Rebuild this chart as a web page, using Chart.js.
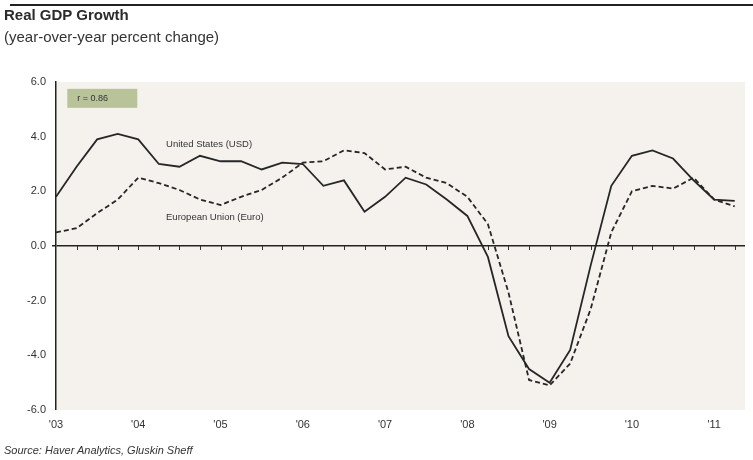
<!DOCTYPE html>
<html>
<head>
<meta charset="utf-8">
<script src="https://cdn.jsdelivr.net/npm/chart.js@4"></script>
<style>
  html, body { margin: 0; padding: 0; background: #fff; }
  #wrap { position: relative; width: 753px; height: 460px; font-family: "Liberation Sans", Arial, sans-serif; }
  #chart { position: absolute; left: 0; top: 0; }
  .rule { position: absolute; left: 10px; right: 0; top: 4px; height: 2px; background: #222; }
  .title { position: absolute; left: 4px; top: 6px; font-size: 15px; font-weight: bold; color: #2b2b2b; }
  .sub { position: absolute; left: 4px; top: 28px; font-size: 15px; color: #333; }
  .source { position: absolute; left: 4px; top: 444px; font-size: 11px; font-style: italic; color: #333; }
</style>
</head>
<body>
<div id="wrap">
  <canvas id="chart" width="753" height="460"></canvas>
  <div class="rule"></div>
  <div class="title">Real GDP Growth</div>
  <div class="sub">(year-over-year percent change)</div>
  <div class="source">Source: Haver Analytics, Gluskin Sheff</div>
</div>
<script>
// quarterly, 2003Q1 .. 2011Q2 (index 0..33)
const yearLabels = ["'03", "'04", "'05", "'06", "'07", "'08", "'09", "'10", "'11"];
const yTicks = [-6, -4, -2, 0, 2, 4, 6];

const usGrowth = [1.8, 2.9, 3.9, 4.1, 3.9, 3.0, 2.9, 3.3, 3.1, 3.1,
                  2.8, 3.05, 3.0, 2.2, 2.4, 1.25, 1.8, 2.5, 2.25, 1.7,
                  1.1, -0.4, -3.3, -4.5, -5.0, -3.8, -0.7, 2.2, 3.3, 3.5,
                  3.2, 2.4, 1.7, 1.65];
const euGrowth = [0.5, 0.65, 1.2, 1.7, 2.5, 2.3, 2.05, 1.7, 1.5, 1.8,
                  2.05, 2.5, 3.05, 3.1, 3.5, 3.4, 2.8, 2.9, 2.5, 2.3,
                  1.8, 0.8, -1.7, -4.9, -5.1, -4.3, -2.3, 0.5, 2.0, 2.2,
                  2.1, 2.5, 1.7, 1.45];

const toPts = arr => arr.map((v, i) => ({ x: i, y: v }));
const FONT = '"Liberation Sans", Arial, sans-serif';

const decor = {
  id: 'decor',
  beforeDraw(chart) {
    const { ctx, chartArea: a } = chart;
    ctx.save();
    ctx.fillStyle = '#f5f2ee';
    ctx.fillRect(a.left, a.top, a.right - a.left, a.bottom - a.top);
    ctx.restore();
  },
  afterDatasetsDraw(chart) {
    const { ctx } = chart;
    const xs = chart.scales.x, ys = chart.scales.y;
    const y0 = ys.getPixelForValue(0);
    ctx.save();
    // quarterly ticks on the zero line
    ctx.strokeStyle = '#333';
    ctx.lineWidth = 1;
    for (let q = 1; q <= 33; q++) {
      const px = Math.round(xs.getPixelForValue(q)) + 0.5;
      ctx.beginPath();
      ctx.moveTo(px, y0);
      ctx.lineTo(px, y0 + 4);
      ctx.stroke();
    }
    // r box
    const bx = xs.getPixelForValue(0.55), by = ys.getPixelForValue(5.75);
    ctx.fillStyle = '#b8c39a';
    ctx.fillRect(bx, by, 70, 19);
    ctx.fillStyle = '#333';
    ctx.font = '9px ' + FONT;
    ctx.textBaseline = 'middle';
    ctx.fillText('r = 0.86', bx + 10, by + 10);
    // series labels
    ctx.font = '9.5px ' + FONT;
    ctx.fillText('United States (USD)', xs.getPixelForValue(5.35), ys.getPixelForValue(3.7));
    ctx.fillText('European Union (Euro)', xs.getPixelForValue(5.35), ys.getPixelForValue(1.05));
    ctx.restore();
  }
};

new Chart(document.getElementById('chart'), {
  type: 'line',
  data: {
    datasets: [
      {
        label: 'United States (USD)',
        data: toPts(usGrowth),
        borderColor: '#262626',
        borderWidth: 1.8,
        pointRadius: 0,
        tension: 0,
      },
      {
        label: 'European Union (Euro)',
        data: toPts(euGrowth),
        borderColor: '#262626',
        borderWidth: 1.8,
        borderDash: [5, 3],
        pointRadius: 0,
        tension: 0,
      }
    ]
  },
  options: {
    responsive: false,
    animation: false,
    layout: { padding: { top: 82, right: 8, left: 0, bottom: 0 } },
    plugins: { legend: { display: false }, tooltip: { enabled: false } },
    scales: {
      x: {
        type: 'linear',
        min: 0, max: 33.5,
        afterBuildTicks: axis => { axis.ticks = yearLabels.map((_, i) => ({ value: i * 4 })); },
        afterFit: axis => { axis.height = 50; },
        grid: { display: false },
        border: { display: false },
        ticks: {
          padding: 0,
          color: '#333',
          font: { size: 11, family: FONT },
          maxRotation: 0,
          callback: v => yearLabels[v / 4],
        }
      },
      y: {
        min: -6, max: 6,
        afterBuildTicks: axis => { axis.ticks = yTicks.map(v => ({ value: v })); },
        afterFit: axis => { axis.width = 56; },
        border: { display: true, color: '#222', width: 1.5 },
        grid: {
          drawOnChartArea: true,
          color: c => c.tick && c.tick.value === 0 ? '#222' : 'rgba(0,0,0,0)',
          lineWidth: c => c.tick && c.tick.value === 0 ? 1.5 : 0,
          tickColor: '#222',
          tickLength: 4,
        },
        ticks: {
          padding: 6,
          color: '#333',
          font: { size: 11, family: FONT },
          callback: v => v.toFixed(1),
        }
      }
    }
  },
  plugins: [decor]
});
</script>
</body>
</html>
